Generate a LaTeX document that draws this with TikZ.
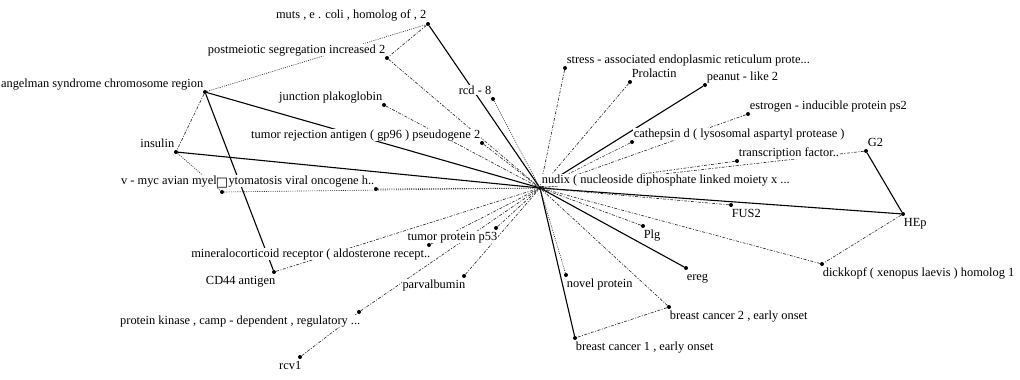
\documentclass[tikz,border=0pt]{standalone}
\usepackage{fontspec}
\setmainfont{Liberation Serif}
\newfontfamily\glyphfont{DejaVu Sans}
\usetikzlibrary{backgrounds}
\definecolor{ink}{HTML}{000000}
\definecolor{wire}{HTML}{2E2E2E}
\tikzset{
  every node/.style={font=\fontsize{12.4}{13}\selectfont,text=ink},
  gene/.style={circle,fill=ink,inner sep=0pt,minimum size=4pt},
  tag/.style={fill=white,inner sep=0.6pt},
  tagul/.style={tag,anchor=base east,xshift=-1pt,yshift=5pt},
  tagur/.style={tag,anchor=base west,xshift=1pt,yshift=5pt},
  tagdl/.style={tag,anchor=base east,xshift=2pt,yshift=-12pt},
  tagdr/.style={tag,anchor=base west,yshift=-12pt},
  tagup/.style={fill=white,inner sep=0pt,anchor=base,xshift=0pt,yshift=6pt},
  strong/.style={draw=ink,line width=1.1pt},
  weak/.style={draw=wire,line width=0.65pt,dash pattern=on 3pt off 1.5pt on 1pt off 1.5pt},
  faint/.style={draw=wire,line width=0.65pt,dash pattern=on 1pt off 1.2pt},
}

\begin{document}
\begin{tikzpicture}[x=1pt,y=-1pt]
  \useasboundingbox (0,0) rectangle (1020,380);

  \node[gene] (nudix) at (540,188) {};
  \node[gene] (muts) at (428,24) {};
  \node[gene] (postm) at (387,58) {};
  \node[gene] (angel) at (205,92) {};
  \node[gene] (junct) at (384,105) {};
  \node[gene] (rcd) at (493,99) {};
  \node[gene] (tra1) at (482,143) {};
  \node[gene] (insul) at (176,152) {};
  \node[gene] (vmyc) at (376,189) {};
  \node[gene] (unk) at (222,192) {};
  \node[gene] (miner) at (429,245) {};
  \node[gene] (cd44) at (274,272) {};
  \node[gene] (p53) at (496,228) {};
  \node[gene] (parv) at (464,276) {};
  \node[gene] (pka) at (359,312) {};
  \node[gene] (rcv) at (300,357) {};
  \node[gene] (novel) at (566,275) {};
  \node[gene] (brca1) at (575,338) {};
  \node[gene] (brca2) at (669,307) {};
  \node[gene] (ereg) at (686,268) {};
  \node[gene] (plg) at (643,226) {};
  \node[gene] (fus) at (731,205) {};
  \node[gene] (hep) at (903,214) {};
  \node[gene] (dkk) at (822,264) {};
  \node[gene] (stress) at (565,68) {};
  \node[gene] (prl) at (630,82) {};
  \node[gene] (peanut) at (705,85) {};
  \node[gene] (estro) at (748,114) {};
  \node[gene] (cath) at (632,142) {};
  \node[gene] (tf) at (737,161) {};
  \node[gene] (g2) at (866,151) {};

  \node[tagur] (nudix-t) at (nudix) {nudix ( nucleoside diphosphate linked moiety x ...};
  \node[tagul] (muts-t) at (muts) {muts , e . coli , homolog of , 2};
  \node[tagul] (postm-t) at (postm) {postmeiotic segregation increased 2};
  \node[tagul] (angel-t) at (angel) {angelman syndrome chromosome region};
  \node[tagul] (junct-t) at (junct) {junction plakoglobin};
  \node[tagul] (rcd-t) at (rcd) {rcd - 8};
  \node[tagul] (tra1-t) at (tra1) {tumor rejection antigen ( gp96 ) pseudogene 2};
  \node[tagul] (insul-t) at (insul) {insulin};
  \node[tagul] (vmyc-t) at (vmyc) {v - myc avian myelocytomatosis viral oncogene h..};
  \node[tagup] (unk-t) at (unk) {\glyphfont\fontsize{13}{13}\selectfont □};
  \node[tagdl] (miner-t) at (miner) {mineralocorticoid receptor ( aldosterone recept..};
  \node[tagdl] (cd44-t) at (cd44) {CD44 antigen};
  \node[tagdl] (p53-t) at (p53) {tumor protein p53};
  \node[tagdl] (parv-t) at (parv) {parvalbumin};
  \node[tagdl] (pka-t) at (pka) {protein kinase , camp - dependent , regulatory ...};
  \node[tagdl] (rcv-t) at (rcv) {rcv1};
  \node[tagdr] (novel-t) at (novel) {novel protein};
  \node[tagdr] (brca1-t) at (brca1) {breast cancer 1 , early onset};
  \node[tagdr] (brca2-t) at (brca2) {breast cancer 2 , early onset};
  \node[tagdr] (ereg-t) at (ereg) {ereg};
  \node[tagdr] (plg-t) at (plg) {Plg};
  \node[tagdr] (fus-t) at (fus) {FUS2};
  \node[tagdr] (hep-t) at (hep) {HEp};
  \node[tagdr] (dkk-t) at (dkk) {dickkopf ( xenopus laevis ) homolog 1};
  \node[tagur] (stress-t) at (stress) {stress - associated endoplasmic reticulum prote...};
  \node[tagur] (prl-t) at (prl) {Prolactin};
  \node[tagur] (peanut-t) at (peanut) {peanut - like 2};
  \node[tagur] (estro-t) at (estro) {estrogen - inducible protein ps2};
  \node[tagur] (cath-t) at (cath) {cathepsin d ( lysosomal aspartyl protease )};
  \node[tagur] (tf-t) at (tf) {transcription factor..};
  \node[tagur] (g2-t) at (g2) {G2};

  \begin{scope}[on background layer]
    \draw[strong] (muts) -- (nudix);
    \draw[strong] (angel) -- (nudix);
    \draw[strong] (angel) -- (cd44);
    \draw[strong] (insul) -- (nudix);
    \draw[strong] (peanut) -- (nudix);
    \draw[strong] (hep) -- (nudix);
    \draw[strong] (g2) -- (hep);
    \draw[strong] (brca1) -- (nudix);
    \draw[strong] (ereg) -- (nudix);

    \draw[weak] (muts) -- (postm);
    \draw[weak] (angel) -- (insul);
    \draw[weak] (postm) -- (nudix);
    \draw[weak] (junct) -- (nudix);
    \draw[weak] (tra1) -- (nudix);
    \draw[weak] (miner) -- (nudix);
    \draw[weak] (cd44) -- (nudix);
    \draw[weak] (p53) -- (nudix);
    \draw[weak] (parv) -- (nudix);
    \draw[weak] (pka) -- (nudix);
    \draw[weak] (rcv) -- (pka);
    \draw[weak] (brca2) -- (nudix);
    \draw[weak] (brca2) -- (brca1);
    \draw[weak] (plg) -- (nudix);
    \draw[weak] (fus) -- (nudix);
    \draw[weak] (dkk) -- (nudix);
    \draw[weak] (hep) -- (dkk);
    \draw[weak] (stress) -- (nudix);
    \draw[weak] (prl) -- (nudix);
    \draw[weak] (estro) -- (nudix);
    \draw[weak] (cath) -- (nudix);
    \draw[weak] (tf) -- (nudix);
    \draw[weak] (g2) -- (nudix);

    \draw[faint] (angel) -- (muts);
    \draw[faint] (insul) -- (unk);
    \draw[faint] (unk) -- (nudix);
    \draw[faint] (vmyc) -- (nudix);
    \draw[faint] (rcd) -- (nudix);
    \draw[faint] (novel) -- (nudix);
  \end{scope}
\end{tikzpicture}
\end{document}
